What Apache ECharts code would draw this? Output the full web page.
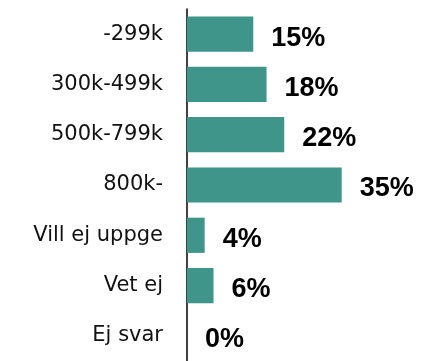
<!DOCTYPE html>
<html>
<head>
<meta charset="utf-8">
<script src="https://cdn.jsdelivr.net/npm/echarts@6/dist/echarts.min.js"></script>
<style>
  html, body { margin: 0; padding: 0; background: #ffffff; }
  #chart { width: 428px; height: 361px; }
</style>
</head>
<body>
<div id="chart"></div>
<script>
// Income brackets and share of respondents (%)
const categories = ['-299k', '300k-499k', '500k-799k', '800k-', 'Vill ej uppge', 'Vet ej', 'Ej svar'];
const shares = [15, 18, 22, 35, 4, 6, 0];

const chart = echarts.init(document.getElementById('chart'), null, { renderer: 'canvas' });

chart.setOption({
  animation: false,
  backgroundColor: '#ffffff',
  grid: { left: 187, right: 20, top: 9, bottom: 0, containLabel: false },
  xAxis: {
    type: 'value',
    min: 0,
    max: 50,
    show: false,
    splitLine: { show: false }
  },
  yAxis: {
    type: 'category',
    data: categories,
    inverse: true,
    axisLine: { show: true, lineStyle: { color: '#000000', width: 1.5 } },
    axisTick: { show: false },
    axisLabel: {
      margin: 24,
      color: '#111111',
      fontFamily: 'DejaVu Sans',
      fontSize: 21,
      padding: [3, 0, 0, 0]
    }
  },
  series: [{
    type: 'bar',
    data: shares,
    barCategoryGap: '30%',
    itemStyle: { color: '#40958a' },
    label: {
      show: true,
      position: 'right',
      distance: 18,
      offset: [0, 4],
      formatter: '{c}%',
      color: '#000000',
      fontFamily: 'Liberation Sans',
      fontWeight: 'bold',
      fontSize: 27
    }
  }]
});
</script>
</body>
</html>
